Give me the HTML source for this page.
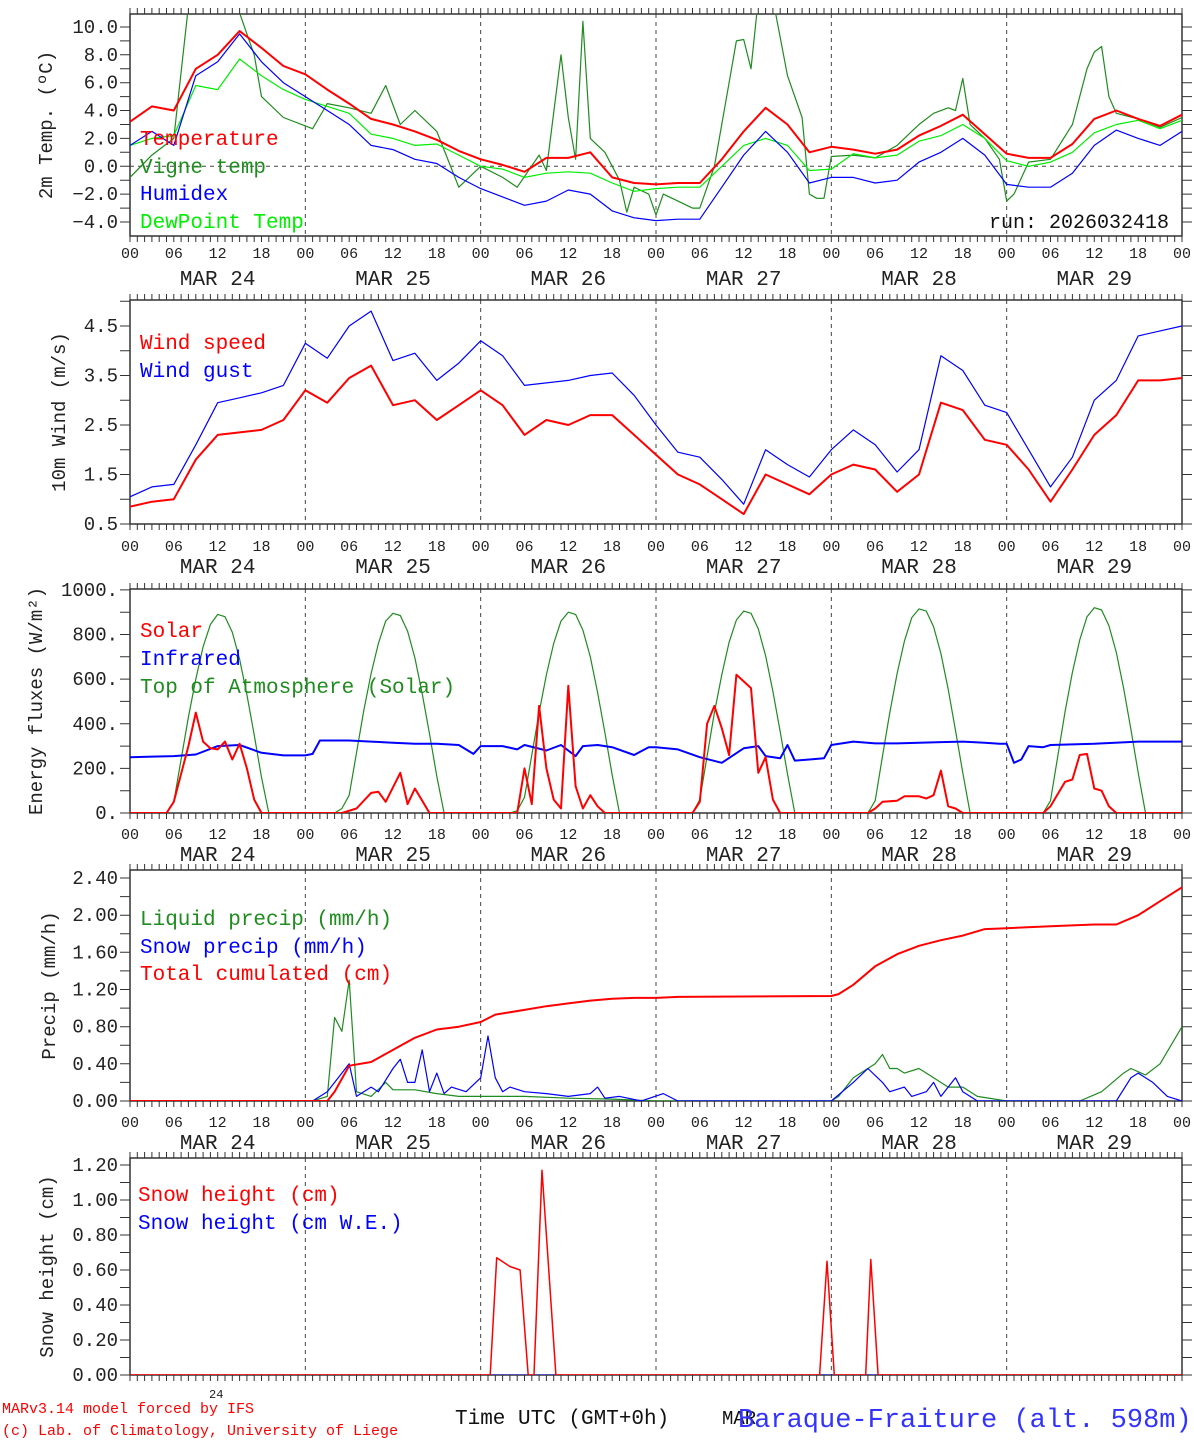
<!DOCTYPE html>
<html><head><meta charset="utf-8"><style>
html,body{margin:0;padding:0;background:#fff;}
svg{display:block;font-family:"Liberation Mono",monospace;}
</style></head><body>
<svg id="chart" width="1194" height="1440" viewBox="0 0 1194 1440" xmlns="http://www.w3.org/2000/svg"></svg>
<script>
// ---------- DATA ----------
const H3 = [0,3,6,9,12,15,18,21,24,27,30,33,36,39,42,45,48,51,54,57,60,63,66,69,72,75,78,81,84,87,90,93,96,99,102,105,108,111,114,117,120,123,126,129,132,135,138,141,144];
const dayLabels = ["MAR 24","MAR 25","MAR 26","MAR 27","MAR 28","MAR 29"];
const hourLabels = ["00","06","12","18"];

const tempVals = [3.2,4.3,4.0,7.0,8.0,9.7,8.5,7.2,6.6,5.5,4.5,3.4,3.0,2.5,1.9,1.1,0.5,0.1,-0.4,0.6,0.6,1.0,-0.8,-1.2,-1.3,-1.2,-1.2,0.5,2.5,4.2,3.0,1.0,1.4,1.2,0.9,1.2,2.2,2.9,3.7,2.3,0.9,0.6,0.6,1.6,3.4,4.0,3.4,2.9,3.7];
const humidexVals = [1.5,2.5,1.5,6.5,7.5,9.5,7.5,6.0,5.0,4.0,3.0,1.5,1.2,0.5,0.2,-0.8,-1.6,-2.2,-2.8,-2.5,-1.7,-2.0,-3.2,-3.7,-3.9,-3.8,-3.8,-1.5,0.8,2.5,1.0,-1.2,-0.8,-0.8,-1.2,-1.0,0.3,1.0,2.0,0.8,-1.3,-1.5,-1.5,-0.5,1.5,2.6,2.0,1.5,2.5];
const dewVals = [1.5,2.0,2.2,5.8,5.5,7.7,6.5,5.5,4.8,4.3,3.8,2.3,2.0,1.5,1.6,0.8,0.0,-0.2,-0.8,-0.5,-0.4,-0.5,-1.2,-1.8,-1.6,-1.5,-1.5,0.0,1.5,2.0,1.5,-0.3,-0.2,0.9,0.6,0.8,1.8,2.2,3.0,2.0,0.4,0.0,0.3,1.0,2.4,3.0,3.3,2.7,3.3];
const vigneHours = [0,3,6,8,12,15,17,18,21,25,27,30,33,35,37,39,42,45,48,51,53,56,57,59,60,61,62,63,65,67,68,69,71,72,73,75,77,78,80,82,83,84,85,86,88,90,92,93,94,95,96,99,102,105,107,108,110,112,113,114,115,117,119,120,121,123,126,129,131,132,133,134,135,138,141,144];
const vigneVals = [-0.8,0.8,2.0,11.5,11.5,11.0,8.0,5.0,3.5,2.7,4.5,4.2,3.8,5.8,3.0,4.0,2.5,-1.5,0.0,-0.8,-1.5,0.8,-0.3,8.0,3.5,0.5,10.4,2.0,1.0,-1.0,-3.3,-1.5,-2.0,-3.5,-2.0,-2.5,-3.0,-3.0,0.0,6.0,9.0,9.1,7.0,12.0,12.0,6.5,3.5,-2.0,-2.3,-2.3,0.7,0.8,0.6,1.5,2.5,3.0,3.8,4.2,4.0,6.3,3.0,2.0,0.5,-2.5,-2.0,0.3,0.5,3.0,7.0,8.2,8.6,5.0,3.8,3.4,2.8,3.5];

const windSpeed = [0.85,0.95,1.0,1.8,2.3,2.35,2.4,2.6,3.2,2.95,3.45,3.7,2.9,3.0,2.6,2.9,3.2,2.9,2.3,2.6,2.5,2.7,2.7,2.3,1.9,1.5,1.3,1.0,0.7,1.5,1.3,1.1,1.5,1.7,1.6,1.15,1.5,2.95,2.8,2.2,2.1,1.6,0.95,1.6,2.3,2.7,3.4,3.4,3.45];
const windGust = [1.05,1.25,1.3,2.1,2.95,3.05,3.15,3.3,4.15,3.85,4.5,4.8,3.8,3.95,3.4,3.75,4.2,3.9,3.3,3.35,3.4,3.5,3.55,3.1,2.5,1.95,1.85,1.4,0.9,2.0,1.7,1.45,2.0,2.4,2.1,1.55,2.0,3.9,3.6,2.9,2.75,2.0,1.25,1.85,3.0,3.4,4.3,4.4,4.5];

const toaDay1 = [0,0,0,0,0,0,50,240,430,600,745,845,890,880,810,690,530,350,160,0,0,0,0,0];
const toaDay2 = [0,0,0,0,0,20,80,270,460,625,760,860,895,885,815,695,535,355,165,0,0,0,0,0];
const toaDay3 = [0,0,0,0,0,10,70,260,450,620,760,860,900,890,820,700,540,360,170,0,0,0,0,0];
const toaDay4 = [0,0,0,0,0,0,60,255,450,620,765,865,905,895,825,705,545,365,175,0,0,0,0,0];
const toaDay5 = [0,0,0,0,0,0,55,255,450,625,770,875,915,905,835,715,555,370,180,0,0,0,0,0];
const toaDay6 = [0,0,0,0,0,0,55,255,455,630,775,880,920,910,840,720,560,375,180,0,0,0,0,0,0];
const irHours = [0,3,6,9,12,15,18,21,24,25,26,30,33,36,39,42,45,47,48,51,53,54,57,59,61,62,64,66,69,71,72,75,78,81,84,86,87,89,90,91,93,95,96,99,102,105,108,111,114,117,119,120,121,122,123,125,126,132,138,144];
const irVals = [250,253,255,262,300,305,270,258,258,265,325,325,320,315,310,310,305,265,300,300,285,305,280,305,255,300,305,295,260,295,295,285,250,225,290,300,255,245,305,235,240,245,305,320,312,312,315,318,320,315,310,310,225,240,300,295,305,310,320,320];
const solarHours = [0,5,6,8,9,10,11,12,13,14,15,16,17,18,29,31,33,34,35,37,38,39,40,41,53,54,55,56,57,58,59,60,61,62,63,64,65,77,78,79,80,81,82,83,84,85,86,87,88,89,101,102,103,105,106,108,109,110,111,112,113,114,125,126,128,129,130,131,132,133,134,135,144];
const solarVals = [0,0,50,300,450,320,290,285,320,240,310,200,60,0,0,20,90,95,50,180,40,110,55,0,0,200,40,480,200,60,20,570,120,20,80,30,0,0,50,400,480,380,260,620,590,560,180,250,60,0,0,20,50,55,75,75,65,80,190,30,20,0,0,30,140,150,260,265,110,100,30,0,0];

const totalHours = [0,27,28,30,33,36,39,42,45,48,50,54,57,60,63,66,69,72,75,96,97,99,102,105,108,111,114,117,120,126,132,135,138,141,144];
const totalVals = [0,0,0.1,0.38,0.42,0.55,0.68,0.77,0.8,0.85,0.93,0.98,1.02,1.05,1.08,1.1,1.11,1.11,1.12,1.13,1.15,1.25,1.45,1.58,1.67,1.73,1.78,1.85,1.86,1.88,1.9,1.9,2.0,2.15,2.3];
const liquidHours = [0,25,27,28,29,30,31,33,35,36,39,42,45,48,50,54,60,66,72,96,97,99,102,103,104,105,106,108,110,112,114,116,120,130,133,136,137,139,141,144];
const liquidVals = [0,0,0.05,0.9,0.75,1.3,0.1,0.05,0.2,0.12,0.12,0.08,0.05,0.05,0.05,0.05,0.03,0.02,0,0,0.05,0.25,0.4,0.5,0.35,0.35,0.3,0.35,0.25,0.15,0.15,0.05,0,0,0.1,0.3,0.35,0.28,0.4,0.8];
const snowHours = [0,25,27,30,31,33,34,36,37,38,39,40,41,42,43,44,46,48,49,50,51,52,54,57,60,63,64,65,67,70,73,75,96,99,101,103,104,106,107,109,110,111,113,114,116,120,135,137,138,140,142,144];
const snowVals = [0,0,0.1,0.4,0.05,0.15,0.1,0.35,0.45,0.2,0.2,0.55,0.1,0.3,0.08,0.15,0.1,0.25,0.7,0.25,0.1,0.15,0.1,0.08,0.05,0.08,0.15,0.03,0.05,0,0.08,0,0,0.2,0.35,0.2,0.1,0.15,0.05,0.1,0.2,0.05,0.25,0.1,0,0,0,0.25,0.3,0.2,0.05,0];

const snowHHours = [0,49.3,50.2,52,53.4,54.5,55.3,56.4,58.3,94.4,95.4,96.4,100.7,101.4,102.4,144];
const snowHVals = [0,0,0.67,0.62,0.6,0,0,1.17,0,0,0.65,0,0,0.66,0,0];
const snowWEHours = [0,144];
const snowWEVals = [0,0];

// ---------- DRAWING ----------
const NS = "http://www.w3.org/2000/svg";
const svg = document.getElementById("chart");
const X0 = 130, X1 = 1182;
function xs(h){ return X0 + h*(X1-X0)/144; }
function el(tag, attrs, parent){
  const e = document.createElementNS(NS, tag);
  for (const k in attrs) e.setAttribute(k, attrs[k]);
  (parent||svg).appendChild(e);
  return e;
}
function txt(s, x, y, size, color, anchor, parent){
  const t = el("text", {x:x, y:y, "font-size":size, fill:color, "text-anchor":anchor||"start"}, parent);
  t.textContent = s;
  return t;
}
const panels = [
  {id:"temp", top:14, bottom:236, vmin:-5.005, vmax:10.93, ticks:[-4,-2,0,2,4,6,8,10], minor:1, fmt:v=>(v<0?"\u2212":"")+Math.abs(v).toFixed(1), hy:258, dy:285, title:"2m Temp. (\u00BAC)", tx:52},
  {id:"wind", top:300, bottom:524, vmin:0.5, vmax:5.025, ticks:[0.5,1.5,2.5,3.5,4.5], minor:0.5, fmt:v=>v.toFixed(1), hy:551, dy:573, title:"10m Wind (m/s)", tx:65},
  {id:"energy", top:589, bottom:813, vmin:0, vmax:1004, ticks:[0,200,400,600,800,1000], minor:100, fmt:v=>v+".", hy:839, dy:861, title:"Energy fluxes (W/m\u00B2)", tx:42},
  {id:"precip", top:870, bottom:1101, vmin:0, vmax:2.486, ticks:[0,0.4,0.8,1.2,1.6,2.0,2.4], minor:0.2, fmt:v=>v.toFixed(2), hy:1127, dy:1149, title:"Precip (mm/h)", tx:55},
  {id:"snow", top:1158, bottom:1375, vmin:0, vmax:1.24, ticks:[0,0.2,0.4,0.6,0.8,1.0,1.2], minor:0.1, fmt:v=>v.toFixed(2), hy:null, dy:null, title:"Snow height (cm)", tx:53}
];
panels.forEach(p=>{ p.y = v => p.bottom - (v-p.vmin)*(p.bottom-p.top)/(p.vmax-p.vmin); });

const defs = el("defs", {});
panels.forEach(p=>{
  const g = el("g", {});
  
  
  p.g = g;
  const cp = el("clipPath", {id:"clip-"+p.id}, defs);
  el("rect", {x:X0, y:p.top, width:X1-X0, height:p.bottom-p.top}, cp);
  for (let d=1; d<6; d++){
    const l = el("line", {x1:xs(d*24), x2:xs(d*24), y1:p.top, y2:p.bottom, stroke:"#444", "stroke-width":1, "stroke-dasharray":"4,4"}, g);
    
    
  }
  if (p.id==="temp"){
    const z = el("line", {x1:X0, x2:X1, y1:p.y(0), y2:p.y(0), stroke:"#444", "stroke-width":1, "stroke-dasharray":"4,4"}, g);
    
    
  }
  const fr = el("rect", {x:X0, y:p.top, width:X1-X0, height:p.bottom-p.top, fill:"none", stroke:"#333", "stroke-width":1.5}, g);
  
  
  let dpath = "";
  for (let h=0; h<=144; h++){
    const x = xs(h).toFixed(1);
    dpath += `M${x},${p.top}v-6M${x},${p.bottom}v6`;
  }
  for (let v=p.ticks[0]; v<=p.vmax+1e-9; v+=p.minor){
    const y = p.y(v).toFixed(1);
    dpath += `M${X0},${y}h-10M${X1},${y}h10`;
  }
  const tk = el("path", {d:dpath, stroke:"#333", "stroke-width":1, fill:"none"}, g);
  
  
  p.ticks.forEach(v=>{
    const t = txt(p.fmt(v), 118, p.y(v)+6, 19, "#222", "end", g);
    
    
  });
  const ty = (p.top+p.bottom)/2;
  const tt = el("text", {x:p.tx, y:ty, "font-size":19, fill:"#222", "text-anchor":"middle", transform:`rotate(-90 ${p.tx} ${ty})`}, g);
  tt.textContent = p.title;
  
  
  if (p.hy){
    for (let h=0; h<=144; h+=6){
      const t = txt(hourLabels[(h/6)%4], xs(h), p.hy, 15, "#222", "middle", g);
      
      
    }
    dayLabels.forEach((s,i)=>{
      const t = txt(s, xs(i*24+12), p.dy, 21, "#222", "middle", g);
      
      
    });
  }
});

function series(p, hours, vals, color, w, name){
  let d = "";
  hours.forEach((h,i)=>{ d += (i?"L":"M") + xs(h).toFixed(1) + "," + p.y(vals[i]).toFixed(1); });
  const path = el("path", {d:d, fill:"none", stroke:color, "stroke-width":w, "stroke-linejoin":"round", "clip-path":`url(#clip-${p.id})`}, p.g);
  
  
  return path;
}
function legend(p, s, x, y, color){
  const t = txt(s, x, y, 21, color, "start", p.g);
  
  
}
const RED="#ff0000", DG="#1e8c1e", BL="#0000ff", LG="#00ee00";
const [P1,P2,P3,P4,P5] = panels;

series(P1, vigneHours, vigneVals, DG, 1.2, "vigne-temp-line");
series(P1, H3, dewVals, LG, 1.2, "dewpoint-line");
series(P1, H3, humidexVals, BL, 1.2, "humidex-line");
series(P1, H3, tempVals, RED, 2, "temperature-line");
legend(P1, "Temperature", 140, 145, RED);
legend(P1, "Vigne temp", 140, 173, DG);
legend(P1, "Humidex", 140, 200, BL);
legend(P1, "DewPoint Temp", 140, 228, LG);
const run = txt("run: 2026032418", 1169, 228, 20, "#111", "end", P1.g);



series(P2, H3, windGust, BL, 1.2, "wind-gust-line");
series(P2, H3, windSpeed, RED, 2, "wind-speed-line");
legend(P2, "Wind speed", 140, 349, RED);
legend(P2, "Wind gust", 140, 377, BL);

const toaVals = toaDay1.concat(toaDay2, toaDay3, toaDay4, toaDay5, toaDay6);
const toaHours = toaVals.map((v,i)=>i);
series(P3, toaHours, toaVals, DG, 1.2, "toa-solar-line");
series(P3, irHours, irVals, BL, 2, "infrared-line");
series(P3, solarHours, solarVals, RED, 2, "solar-line");
legend(P3, "Solar", 140, 637, RED);
legend(P3, "Infrared", 140, 665, BL);
legend(P3, "Top of Atmosphere (Solar)", 140, 693, DG);

series(P4, liquidHours, liquidVals, DG, 1.2, "liquid-precip-line");
series(P4, snowHours, snowVals, BL, 1.2, "snow-precip-line");
series(P4, totalHours, totalVals, RED, 2, "total-cumulated-line");
legend(P4, "Liquid precip (mm/h)", 140, 925, DG);
legend(P4, "Snow precip (mm/h)", 140, 953, BL);
legend(P4, "Total cumulated (cm)", 140, 980, RED);

const we = series(P5, snowWEHours, snowWEVals, BL, 1, "snow-we-line");
we.setAttribute("opacity", "0.8");
series(P5, snowHHours, snowHVals, RED, 1.5, "snow-height-line");
legend(P5, "Snow height (cm)", 138, 1201, RED);
legend(P5, "Snow height (cm W.E.)", 138, 1229, BL);

function foot(s,x,y,size,color,name){
  const t = txt(s,x,y,size,color,"start");
  
  
}
foot("24", 209, 1398, 12, "#222", "footer-24");
foot("MARv3.14 model forced by IFS", 2, 1413, 15, RED, "model-credit");
foot("(c) Lab. of Climatology, University of Liege", 2, 1435, 15, RED, "lab-credit");
foot("Time UTC (GMT+0h)", 455, 1424, 21, "#111", "x-axis-title");
foot("MAR", 722, 1424, 19, "#111", "footer-mar");
foot("Baraque-Fraiture (alt. 598m)", 738, 1427, 27, "#3333ff", "station-title");
</script>
</body></html>
